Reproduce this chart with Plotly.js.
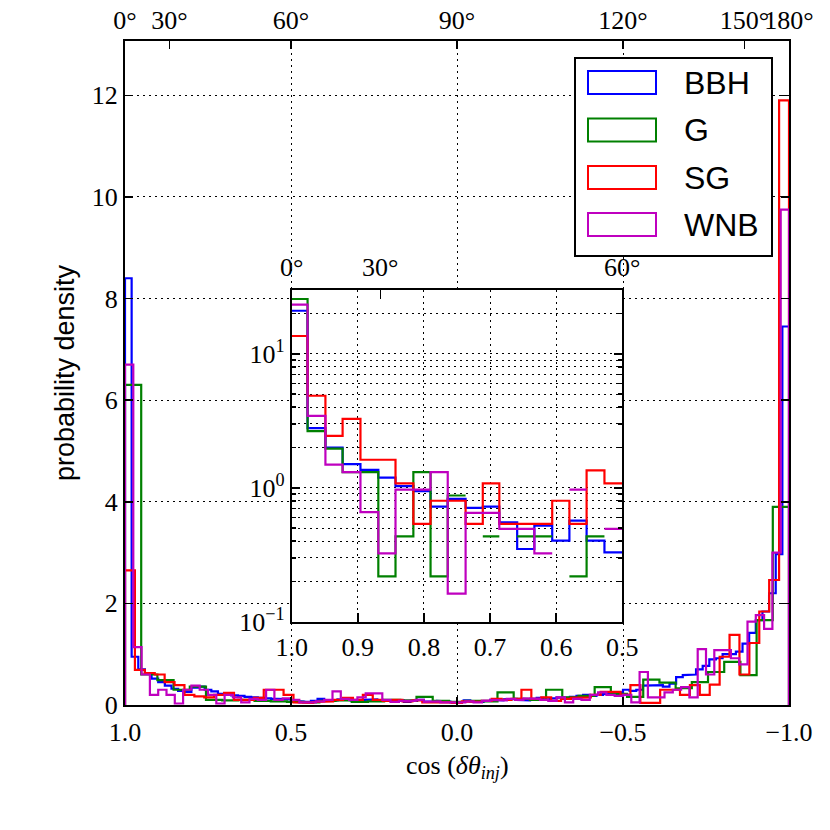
<!DOCTYPE html>
<html><head><meta charset="utf-8">
<script src="https://cdn.plot.ly/plotly-3.0.1.min.js"></script>
<style>html,body{margin:0;padding:0;background:#fff}</style>
</head><body><div id="chart" style="width:830px;height:830px"></div>
<script>
// ---------------- data ----------------
const seriesNames = ['BBH', 'G', 'SG', 'WNB'];
const seriesColors = ['#0000ff', '#008000', '#ff0000', '#bf00bf'];

// number of histogram bins (uniform over cos = 1 ... -1) for each series
const bbhBinCount = 100;
const gBinCount = 41;
const sgBinCount = 67;
const wnbBinCount = 80;

// probability density per bin, ordered from cos = 1.0 towards cos = -1.0
const bbhValues = [
  8.4, 0.95, 0.7, 0.62, 0.52, 0.45, 0.38, 0.32, 0.28, 0.26,
  0.34, 0.36, 0.30, 0.27, 0.22, 0.20, 0.19, 0.18, 0.16, 0.15,
  0.14, 0.13, 0.12, 0.12, 0.11, 0.08, 0.07, 0.06, 0.08, 0.12,
  0.10, 0.09, 0.11, 0.10, 0.09, 0.08, 0.10, 0.11, 0.09, 0.08,
  0.07, 0.09, 0.06, 0.08, 0.10, 0.07, 0.06, 0.08, 0.07, 0.05,
  0.06, 0.09, 0.07, 0.06, 0.08, 0.10, 0.09, 0.11, 0.12, 0.10,
  0.09, 0.12, 0.14, 0.11, 0.13, 0.15, 0.14, 0.16, 0.18, 0.20,
  0.18, 0.20, 0.22, 0.22, 0.25, 0.30, 0.28, 0.30, 0.38, 0.39,
  0.39, 0.36, 0.42, 0.55, 0.59, 0.60, 0.70, 0.77, 0.90, 0.92,
  1.0, 1.0, 1.05, 1.21, 1.42, 1.67, 1.84, 2.2, 2.97, 7.45
];
const gValues = [
  6.3, 0.6, 0.49, 0.3, 0.36, 0.1, 0.09, 0.1, 0.08, 0.07,
  0.06, 0.05, 0.08, 0.09, 0.06, 0.07, 0.1, 0.09, 0.16, 0.08,
  0.06, 0.08, 0.07, 0.25, 0.12, 0.10, 0.30, 0.15, 0.18, 0.35,
  0.22, 0.16, 0.5, 0.44, 0.33, 0.45, 0.65, 0.85, 0.59, 1.67,
  3.9
];
const sgValues = [
  2.65, 0.69, 0.63, 0.6, 0.45, 0.39, 0.2, 0.17, 0.15, 0.2,
  0.24, 0.1, 0.1, 0.14, 0.3, 0.3, 0.2, 0.05, 0.04, 0.06,
  0.07, 0.1, 0.14, 0.1, 0.2, 0.1, 0.08, 0.1, 0.07, 0.09,
  0.05, 0.06, 0.05, 0.04, 0.07, 0.06, 0.08, 0.12, 0.1, 0.12,
  0.3, 0.12, 0.15, 0.08, 0.12, 0.14, 0.15, 0.2, 0.26, 0.26,
  0.2, 0.39, 0.04, 0.04, 0.3, 0.3, 0.2, 0.39, 0.2, 0.4,
  0.95, 1.38, 0.6, 1.22, 1.84, 2.46, 11.9
];
const wnbValues = [
  6.7, 1.14, 0.6, 0.2, 0.3, 0.2, 0.03, 0.3, 0.38, 0.3,
  0.2, 0.03, 0.2, 0.15, 0.05, 0.12, 0.1, 0.3, 0.1, 0.13,
  0.1, 0.05, 0.05, 0.07, 0.1, 0.27, 0.12, 0.1, 0.15, 0.23,
  0.23, 0.1, 0.06, 0.08, 0.08, 0.1, 0.06, 0.07, 0.05, 0.06,
  0.05, 0.07, 0.05, 0.08, 0.1, 0.09, 0.12, 0.1, 0.13, 0.12,
  0.1, 0.08, 0.15, 0.05, 0.12, 0.1, 0.2, 0.25, 0.2, 0.18,
  0.2, 0.05, 0.65, 0.15, 0.15, 0.25, 0.3, 0.35, 0.15, 1.1,
  0.6, 1.08, 1.08, 0.92, 0.8, 1.64, 1.77, 1.5, 3.0, 9.75
];

// inset: finer look at cos in [1.0, 0.5], shared bin edges, log density
const insetEdges = [1.0, 0.976, 0.949, 0.923, 0.896, 0.869, 0.843, 0.816, 0.790, 0.764,
                    0.737, 0.711, 0.686, 0.659, 0.633, 0.606, 0.580, 0.554, 0.527, 0.5];
const insetBBH = [21.0, 2.79, 2.0, 1.50, 1.36, 1.19, 1.03, 0.944, 0.724, 0.827,
                  0.708, 0.724, 0.553, 0.349, 0.522, 0.403, 0.569, 0.403, 0.329];
const insetG   = [25.7, 2.65, 1.96, 1.31, 1.31, 0.218, 0.434, 1.31, 0.218, 0.876,
                  0, 0.434, 0, 0.434, 0.434, 0, 0.218, 0.434, 0];
const insetSG  = [13.6, 4.87, 2.44, 3.27, 1.62, 1.62, 1.08, 0.537, 0.80, 0.80,
                  0.537, 1.08, 0.537, 0.537, 0.537, 0.80, 0.537, 1.35, 1.08];
const insetWNB = [23.3, 3.45, 1.49, 1.31, 0.657, 0.324, 0.97, 0.97, 1.31, 0.162,
                  0.65, 0.65, 0.493, 0.493, 0.324, 0, 0.97, 0, 0.493];

// tick labels
const xTickVals = [1, 0.5, 0, -0.5, -1];
const xTickText = ['1.0', '0.5', '0.0', '\u22120.5', '\u22121.0'];
const yTickVals = [0, 2, 4, 6, 8, 10, 12];
const yTickText = ['0', '2', '4', '6', '8', '10', '12'];
const angleDegrees = [0, 30, 60, 90, 120, 150, 180];
const insetXTickVals = [1.0, 0.9, 0.8, 0.7, 0.6, 0.5];
const insetXTickText = ['1.0', '0.9', '0.8', '0.7', '0.6', '0.5'];
const insetAngleDegrees = [0, 30, 60];
const insetYTickVals = [0.1, 1, 10];
const insetYTickText = ['10<sup>\u22121</sup>', '10<sup>0</sup>', '10<sup>1</sup>'];
const insetYMinorVals = [0.2, 0.3, 0.4, 0.5, 0.6, 0.7, 0.8, 0.9, 2, 3, 4, 5, 6, 7, 8, 9, 20, 30];

// ---------------- helpers ----------------
function uniformEdges(n) {
  const e = [];
  for (let i = 0; i <= n; i++) e.push(1 - 2 * i / n);
  return e;
}
function stepOutline(edges, vals) {
  const xs = [edges[0]], ys = [0];
  for (let i = 0; i < vals.length; i++) {
    xs.push(edges[i], edges[i + 1]);
    ys.push(vals[i], vals[i]);
  }
  xs.push(edges[vals.length]); ys.push(0);
  return {x: xs, y: ys};
}
function stepOutlineLog(edges, vals) {
  const xs = [edges[0]], ys = [null];
  for (let i = 0; i < vals.length; i++) {
    const v = vals[i] > 0 ? vals[i] : null;
    xs.push(edges[i], edges[i + 1]);
    ys.push(v, v);
  }
  xs.push(edges[vals.length]); ys.push(null);
  return {x: xs, y: ys};
}
const degToCos = d => Math.cos(d * Math.PI / 180);

// ---------------- traces ----------------
const mainSets = [
  [uniformEdges(bbhBinCount), bbhValues],
  [uniformEdges(gBinCount), gValues],
  [uniformEdges(sgBinCount), sgValues],
  [uniformEdges(wnbBinCount), wnbValues]
];
const insetSets = [insetBBH, insetG, insetSG, insetWNB];

const traces = [];
mainSets.forEach((s, i) => {
  const o = stepOutline(s[0], s[1]);
  traces.push({type: 'scatter', mode: 'lines', x: o.x, y: o.y, xaxis: 'x', yaxis: 'y',
    name: seriesNames[i], line: {color: seriesColors[i], width: 2.2, shape: 'linear'},
    showlegend: false, hoverinfo: 'skip'});
});
insetSets.forEach((v, i) => {
  const o = stepOutlineLog(insetEdges, v);
  traces.push({type: 'scatter', mode: 'lines', x: o.x, y: o.y, xaxis: 'x2', yaxis: 'y2',
    name: seriesNames[i], line: {color: seriesColors[i], width: 2.2}, connectgaps: false,
    showlegend: false, hoverinfo: 'skip'});
});
// carriers for the top (angle) axes
traces.push({type: 'scatter', mode: 'lines', x: [1, -1], y: [null, null], xaxis: 'x3', yaxis: 'y', showlegend: false, hoverinfo: 'skip'});
traces.push({type: 'scatter', mode: 'lines', x: [1, 0.5], y: [null, null], xaxis: 'x4', yaxis: 'y2', showlegend: false, hoverinfo: 'skip'});

// ---------------- layout ----------------
const W = 830, H = 830, ML = 125, MR = 41, MT = 41, MB = 125;
const PW = W - ML - MR, PH = H - MT - MB;
const px2x = px => (px - ML) / PW;
const py2y = py => (H - MB - py) / PH;

const serif = 'Liberation Serif, DejaVu Serif, serif';
const sans = 'Liberation Sans, Arial, sans-serif';
const tickFont = {family: serif, size: 26, color: '#000'};
const gridDash = '2px,4px';

const baseAxis = {
  showline: true, linecolor: '#000', linewidth: 2,
  ticks: 'inside', ticklen: 8, tickwidth: 1.5, tickcolor: '#000',
  tickfont: tickFont, zeroline: false, fixedrange: true, tickangle: 0,
  gridcolor: '#000', gridwidth: 1, griddash: gridDash
};

const layout = {
  width: W, height: H,
  margin: {l: ML, r: MR, t: MT, b: MB, pad: 0},
  paper_bgcolor: '#fff', plot_bgcolor: '#fff',
  showlegend: false,
  xaxis: Object.assign({}, baseAxis, {
    domain: [0, 1], anchor: 'y', range: [1, -1], autorange: false,
    tickmode: 'array', tickvals: xTickVals, ticktext: xTickText,
    showgrid: true, ticklabelstandoff: 3
  }),
  yaxis: Object.assign({}, baseAxis, {
    domain: [0, 1], anchor: 'x', range: [0, 13.07], autorange: false,
    tickmode: 'array', tickvals: yTickVals, ticktext: yTickText,
    showgrid: true, mirror: 'ticks', ticklabelstandoff: 0
  }),
  xaxis3: Object.assign({}, baseAxis, {
    overlaying: 'x', side: 'top', anchor: 'y', range: [1, -1], autorange: false,
    tickmode: 'array', tickvals: angleDegrees.map(degToCos),
    ticktext: angleDegrees.map(d => d + '\u00b0'),
    showgrid: false, ticklabelstandoff: 0
  }),
  xaxis2: Object.assign({}, baseAxis, {
    domain: [px2x(291.7), px2x(622.3)], anchor: 'y2', range: [1, 0.5], autorange: false,
    tickmode: 'array', tickvals: insetXTickVals, ticktext: insetXTickText,
    showgrid: true, ticklen: 9, ticklabelstandoff: 1
  }),
  yaxis2: Object.assign({}, baseAxis, {
    domain: [py2y(621.7), py2y(290)], anchor: 'x2', type: 'log',
    range: [-1, Math.log10(30)], autorange: false,
    tickmode: 'array', tickvals: insetYTickVals, ticktext: insetYTickText,
    showgrid: true, mirror: 'ticks', ticklen: 8, ticklabelstandoff: 0,
    minor: {tickmode: 'array', tickvals: insetYMinorVals, ticks: 'inside', ticklen: 4,
            tickcolor: '#000', showgrid: true, gridcolor: '#000', gridwidth: 1, griddash: gridDash}
  }),
  xaxis4: Object.assign({}, baseAxis, {
    overlaying: 'x2', side: 'top', anchor: 'y2', range: [1, 0.5], autorange: false,
    tickmode: 'array', tickvals: insetAngleDegrees.map(degToCos),
    ticktext: insetAngleDegrees.map(d => d + '\u00b0'),
    showgrid: false, ticklen: 9, ticklabelstandoff: 2
  }),
  shapes: [],
  annotations: []
};

// axis titles
layout.annotations.push({
  xref: 'paper', yref: 'paper', x: px2x(65), y: 0.5, xanchor: 'center', yanchor: 'middle',
  text: 'probability density', textangle: -90, showarrow: false,
  font: {family: sans, size: 27, color: '#000'}
});
layout.annotations.push({
  xref: 'paper', yref: 'paper', x: 0.5, y: py2y(767), xanchor: 'center', yanchor: 'middle',
  text: 'cos (<i>\u03b4\u03b8<sub>inj</sub></i>)', showarrow: false,
  font: {family: serif, size: 26, color: '#000'}
});

// legend (outlined patches like step histograms)
layout.shapes.push({type: 'rect', xref: 'paper', yref: 'paper', layer: 'above',
  x0: px2x(575), x1: px2x(772), y0: py2y(256), y1: py2y(58),
  line: {color: '#000', width: 2}, fillcolor: '#fff'});
const rowCenters = [82.5, 130, 177.5, 224.5];
seriesNames.forEach((nm, i) => {
  const c = rowCenters[i];
  layout.shapes.push({type: 'rect', xref: 'paper', yref: 'paper', layer: 'above',
    x0: px2x(588), x1: px2x(656), y0: py2y(c + 11.5), y1: py2y(c - 11.5),
    line: {color: seriesColors[i], width: 2}, fillcolor: 'rgba(0,0,0,0)'});
  layout.annotations.push({xref: 'paper', yref: 'paper', x: px2x(682), y: py2y(c),
    xanchor: 'left', yanchor: 'middle', text: nm, showarrow: false,
    font: {family: sans, size: 32, color: '#000'}});
});

Plotly.newPlot('chart', traces, layout, {staticPlot: true, displayModeBar: false});
</script>
</body></html>
